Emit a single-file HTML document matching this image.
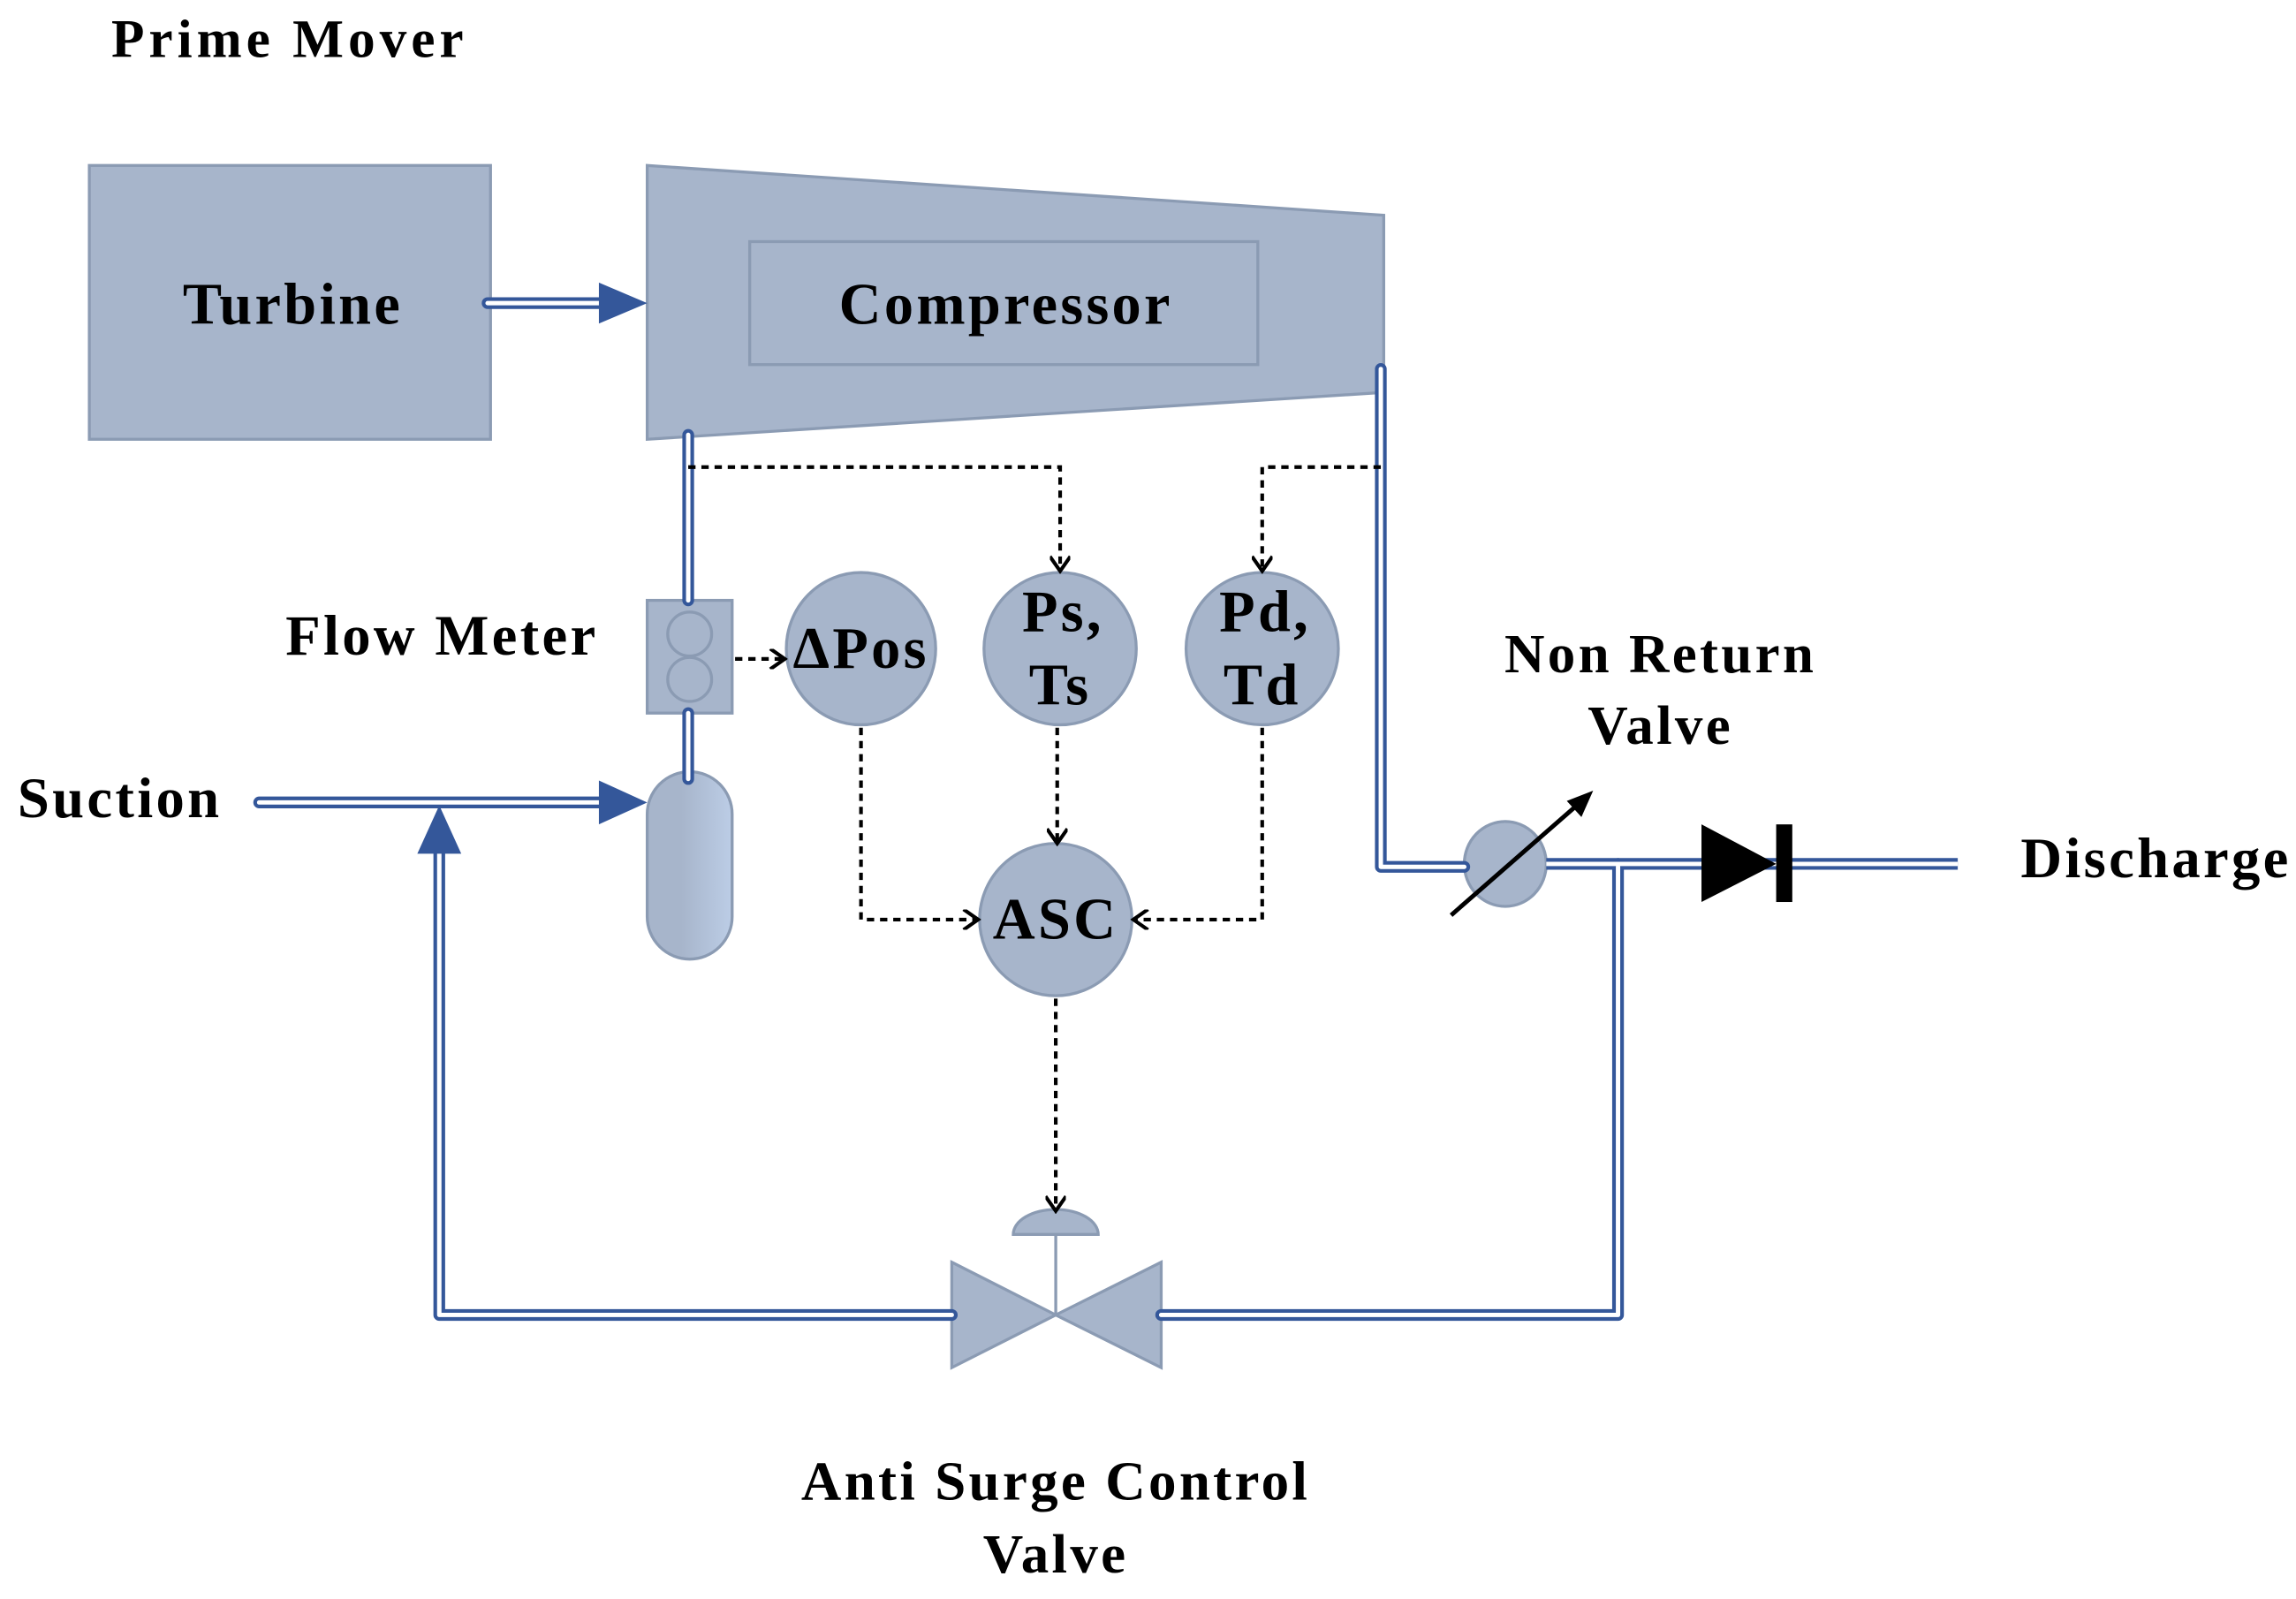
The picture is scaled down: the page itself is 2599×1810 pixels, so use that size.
<!DOCTYPE html>
<html><head><meta charset="utf-8"><style>
html,body{margin:0;padding:0;background:#fff;}
svg{display:block;}
text{font-family:"Liberation Serif",serif;font-weight:bold;fill:#000;letter-spacing:2px;}
</style></head><body>
<svg width="2599" height="1810" viewBox="0 0 1568 1092" preserveAspectRatio="none" xmlns="http://www.w3.org/2000/svg">
<defs>
<marker id="oa" markerWidth="14" markerHeight="14" refX="12" refY="7" orient="auto" markerUnits="userSpaceOnUse">
<path d="M2,0 L12,7 L2,14" fill="none" stroke="#000" stroke-width="2.5"/>
</marker>
<linearGradient id="tg" x1="0" x2="1" y1="0" y2="0">
<stop offset="0" stop-color="#a7b5cb"/><stop offset="0.4" stop-color="#a7b5cb"/><stop offset="1" stop-color="#bccde6"/>
</linearGradient>
</defs>
<g fill="#a7b5cb" stroke="#8b9bb3" stroke-width="2">
<rect x="61" y="113" width="274" height="187"/>
<polygon points="442,113 945,147 945,268 442,300"/>
<rect x="512" y="165" width="347" height="84" fill="none"/>
<rect x="442" y="410" width="58" height="77"/>
<circle cx="471" cy="433" r="15"/>
<circle cx="471" cy="464" r="15"/>
<rect x="442" y="527" width="58" height="128" rx="29" fill="url(#tg)"/>
<ellipse cx="588" cy="443" rx="51" ry="52"/>
<ellipse cx="724" cy="443" rx="52" ry="52"/>
<ellipse cx="862" cy="443" rx="52" ry="52"/>
<ellipse cx="721" cy="628" rx="52" ry="52"/>
<path d="M692,843 A29,17 0 0 1 750,843 Z"/>
<polygon points="650,862 721,898 650,934"/>
<polygon points="793,862 721,898 793,934"/>
<ellipse cx="1028" cy="590" rx="28" ry="29"/>
</g>
<line x1="721" y1="843" x2="721" y2="898" stroke="#8b9bb3" stroke-width="2"/>
<g fill="none" stroke-linejoin="round" stroke-linecap="round">
<g stroke="#34579a" stroke-width="8">
<path d="M333,207 H413"/>
<path d="M470,297 V410"/>
<path d="M470,487 V532"/>
<path d="M177,548 H413"/>
<path d="M650,898 H300 V583"/>
<path d="M793,898 H1105 V590"/>
<path d="M943,252 V592 H1000"/>
<path d="M1056,590 H1337" stroke-linecap="butt"/>
</g>
<g stroke="#fff" stroke-width="3">
<path d="M333,207 H413"/>
<path d="M470,297 V410"/>
<path d="M470,487 V532"/>
<path d="M177,548 H413"/>
<path d="M650,898 H300 V583"/>
<path d="M793,898 H1105 V592"/>
<path d="M943,252 V592 H1000"/>
<path d="M1056,590 H1337" stroke-linecap="butt"/>
</g>
</g>
<g fill="#34579a">
<polygon points="409,193 442,207 409,221"/>
<polygon points="409,533 442,548 409,563"/>
<polygon points="285,583 300,550 315,583"/>
</g>
<g fill="none" stroke="#000" stroke-width="2.5" stroke-dasharray="5,4" marker-end="url(#oa)">
<path d="M470,319 H724 V390"/>
<path d="M943,319 H862 V390"/>
<path d="M502,450 H536"/>
<path d="M588,497 V628 H668"/>
<path d="M722,497 V576"/>
<path d="M862,497 V628 H774"/>
<path d="M721,682 V827"/>
</g>
<line x1="991" y1="625" x2="1078" y2="549" stroke="#000" stroke-width="3"/>
<polygon points="1088,540 1070,547 1080,558" fill="#000"/>
<polygon points="1162,563 1162,616 1213,590" fill="#000"/>
<rect x="1213" y="563" width="11" height="53" fill="#000"/>
<text x="76" y="39" font-size="37" style="letter-spacing:3px">Prime Mover</text>
<text x="200" y="221" font-size="40" text-anchor="middle">Turbine</text>
<text x="687" y="221" font-size="40" text-anchor="middle">Compressor</text>
<text x="195" y="447" font-size="39">Flow Meter</text>
<text x="12" y="558" font-size="39">Suction</text>
<text x="1134" y="459" font-size="38" text-anchor="middle">Non Return</text>
<text x="1134" y="508" font-size="38" text-anchor="middle">Valve</text>
<text x="1380" y="599" font-size="39">Discharge</text>
<text x="721" y="1024" font-size="38" text-anchor="middle">Anti Surge Control</text>
<text x="721" y="1074" font-size="38" text-anchor="middle">Valve</text>
<text x="588" y="456" font-size="40" text-anchor="middle">ΔPos</text>
<text x="726" y="431" font-size="40" text-anchor="middle">Ps,</text>
<text x="724" y="481" font-size="40" text-anchor="middle">Ts</text>
<text x="864" y="431" font-size="40" text-anchor="middle">Pd,</text>
<text x="862" y="481" font-size="40" text-anchor="middle">Td</text>
<text x="721" y="641" font-size="40" text-anchor="middle">ASC</text>
</svg>
</body></html>
